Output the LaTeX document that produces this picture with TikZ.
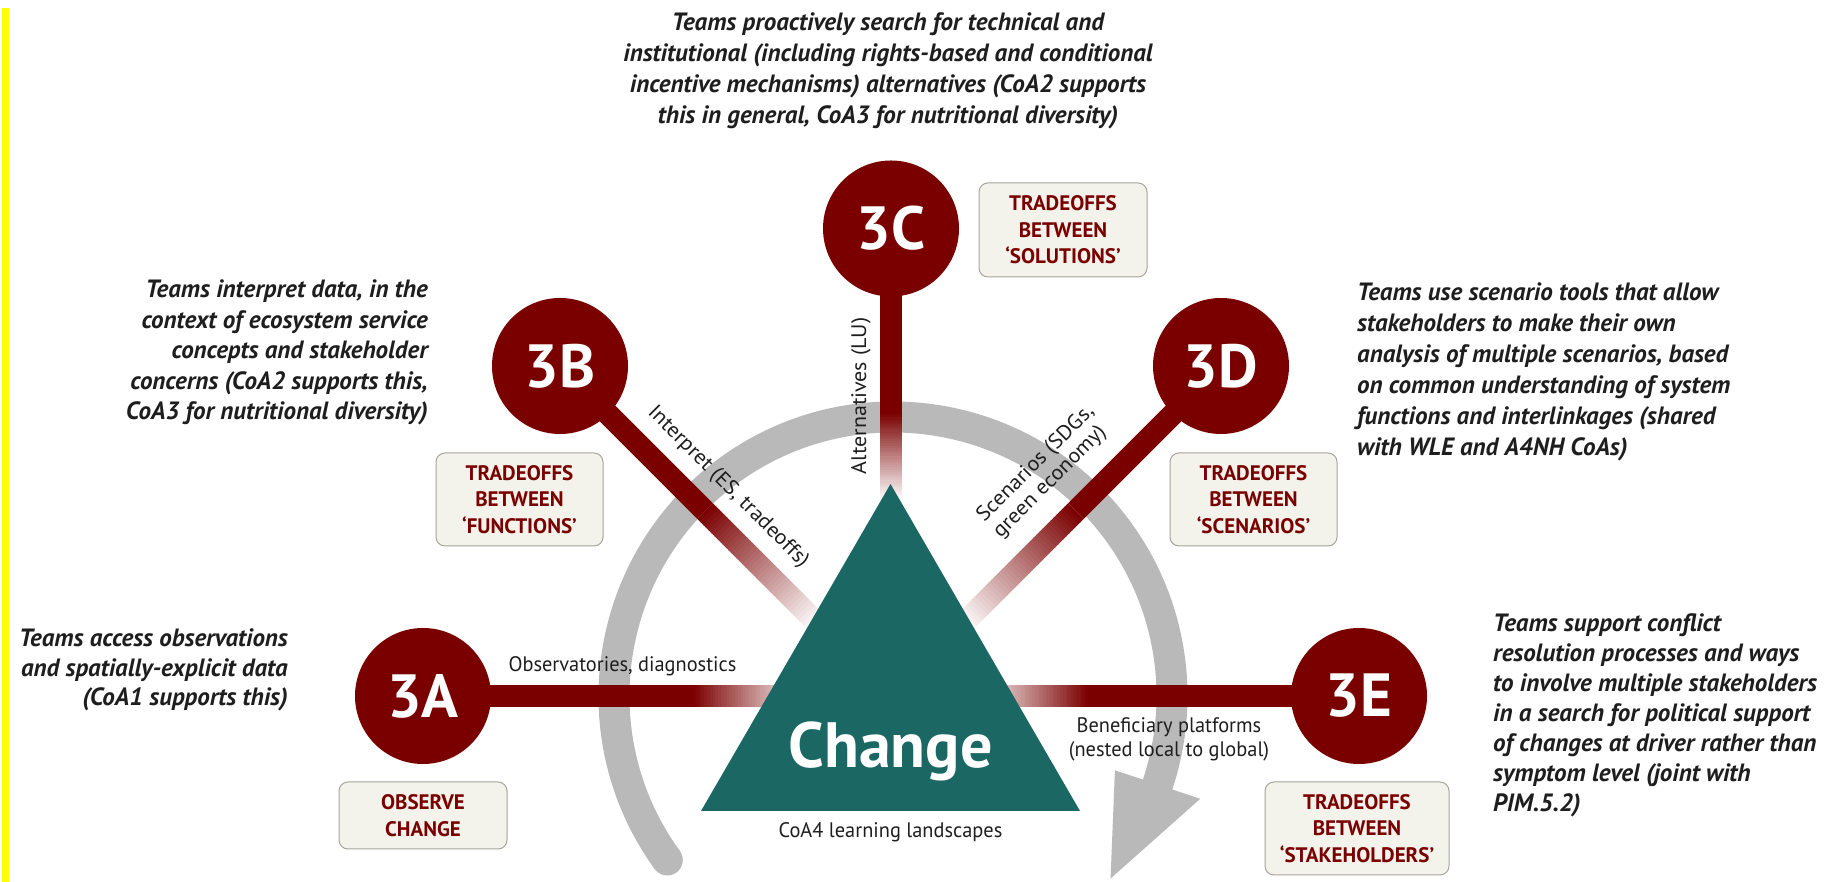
\documentclass[tikz,border=0pt]{standalone}
\usepackage{fontspec}
\setmainfont{PT Sans}
\newfontfamily\descf{PT Sans}
\newfontfamily\lblf{PT Sans}[FakeStretch=0.97]
\newfontfamily\rotf{PT Sans}[FakeStretch=1.05]
\usetikzlibrary{calc}
\definecolor{dred}{RGB}{122,0,0}
\definecolor{tealc}{RGB}{27,103,99}
\definecolor{arcgray}{RGB}{185,185,185}
\definecolor{boxfill}{RGB}{243,243,236}
\definecolor{boxline}{RGB}{165,165,155}
\definecolor{txt}{RGB}{30,30,30}
\definecolor{yellowc}{RGB}{255,255,0}
\pgfdeclarelayer{arcl}\pgfdeclarelayer{spokel}\pgfdeclarelayer{tril}
\pgfsetlayers{arcl,spokel,tril,main}
\newcommand{\fadespoke}[2]{%
 \foreach \i in {0,...,39}{%
   \pgfmathsetmacro{\ta}{\i/40}%
   \pgfmathsetmacro{\tb}{(\i+1.3)/40}%
   \pgfmathsetmacro{\pc}{100*(1-(\i+0.5)/40)}%
   \draw[line width=22, dred!\pc!white] ($(#1)!\ta!(#2)$) -- ($(#1)!\tb!(#2)$);
 }}
\begin{document}
\begin{tikzpicture}[x=1pt,y=1pt,
  hub/.style={circle, fill=dred, minimum size=136pt, inner sep=0pt, text=white, font=\fontsize{61}{61}\selectfont\bfseries},
  tradebox/.style={rounded corners=9pt, fill=boxfill, draw=boxline, line width=1pt, inner sep=0pt, align=center, text=dred, font=\fontsize{21}{26.5}\selectfont\bfseries},
  desc/.style={inner sep=0pt, text=txt, font=\descf\fontsize{25}{#1}\selectfont\bfseries\itshape},
  desc/.default=30,
  lbl/.style={inner sep=0pt, text=txt, font=\lblf\fontsize{21}{24}\selectfont},
  rlbl/.style={inner sep=0pt, text=txt, font=\rotf\fontsize{21}{23}\selectfont},
  spoke/.style={line width=22, dred},
]
\useasboundingbox (0,0) rectangle (1838,882);
\fill[yellowc] (2,0) rectangle (9,874);

% hubs
\node[hub] (c3A) at (423,186) {3A};
\node[hub] (c3B) at (560,516) {3B};
\node[hub] (c3C) at (891,653.5) {3C};
\node[hub] (c3D) at (1221,516) {3D};
\node[hub] (c3E) at (1359,186) {3E};

% triangle
\coordinate (tApex) at (890.5,398);
\coordinate (tBL) at (701,71);
\coordinate (tBR) at (1080,71);
\begin{pgfonlayer}{tril}
\fill[tealc] (tApex) -- (tBL) -- (tBR) -- cycle;
\end{pgfonlayer}
\node[anchor=base, inner sep=0pt, text=white, font=\fontsize{64}{64}\selectfont\bfseries] (chg) at (890.5,114) {Change};

% cycle arrow
\coordinate (arcc) at (893,186);
\begin{pgfonlayer}{arcl}
\draw[arcgray, line width=31] ($(arcc)+(216:279)$) arc[start angle=216, end angle=-20, radius=279];
\fill[arcgray] ($(arcc)+(216:279)$) circle[radius=15.5];
\fill[arcgray] ($(arcc)+(-18.5:234)$) -- ($(arcc)+(-18.5:324)$) -- ($(arcc)+(-40:284)$) -- cycle;
\end{pgfonlayer}

% spokes
\coordinate (f3A) at (693,186);  \coordinate (e3A) at (805,186);
\coordinate (f3E) at (1088,186); \coordinate (e3E) at (976,186);
\coordinate (f3C) at (891,469);  \coordinate (e3C) at (891,382);
\coordinate (f3B) at (705,371);  \coordinate (e3B) at (818,258);
\coordinate (f3D) at (1076,371); \coordinate (e3D) at (963,258);
\begin{pgfonlayer}{spokel}
\foreach \s in {3A,3B,3C,3D,3E}{
  \draw[spoke] (c\s.center) -- (f\s);
  \fadespoke{f\s}{e\s}
}
\end{pgfonlayer}

% tradeoff boxes
\node[tradebox, minimum width=168pt, minimum height=94pt] (bC) at (1063,652) {TRADEOFFS\\BETWEEN\\‘SOLUTIONS’};
\node[tradebox, minimum width=167pt, minimum height=93pt] (bB) at (519.5,382.5) {TRADEOFFS\\BETWEEN\\‘FUNCTIONS’};
\node[tradebox, minimum width=167pt, minimum height=93pt] (bD) at (1253.5,382.5) {TRADEOFFS\\BETWEEN\\‘SCENARIOS’};
\node[tradebox, minimum width=168pt, minimum height=67pt] (bA) at (423,66.5) {OBSERVE\\CHANGE};
\node[tradebox, minimum width=184pt, minimum height=93pt] (bE) at (1357,53.5) {TRADEOFFS\\BETWEEN\\‘STAKEHOLDERS’};

% descriptions
\node[desc=31, anchor=north, align=center] (tC) at (888,870) {Teams proactively search for technical and\\institutional (including rights-based and conditional\\incentive mechanisms) alternatives (CoA2 supports\\this in general, CoA3 for nutritional diversity)};
\node[desc=30.5, anchor=north east, align=right] (tB) at (428,602) {Teams interpret data, in the\\context of ecosystem service\\concepts and stakeholder\\concerns (CoA2 supports this,\\CoA3 for nutritional diversity)};
\node[desc=29.5, anchor=north east, align=right] (tA) at (288,253) {Teams access observations\\and spatially-explicit data\\(CoA1 supports this)};
\node[desc=31, anchor=north west, align=left] (tD) at (1357,599) {Teams use scenario tools that allow\\stakeholders to make their own\\analysis of multiple scenarios, based\\on common understanding of system\\functions and interlinkages (shared\\with WLE and A4NH CoAs)};
\node[desc=30, anchor=north west, align=left] (tE) at (1493,269) {Teams support conflict\\resolution processes and ways\\to involve multiple stakeholders\\in a search for political support\\of changes at driver rather than\\symptom level (joint with\\PIM.5.2)};

% spoke labels
\node[lbl, anchor=base] (lA) at (622.5,210) {Observatories, diagnostics};
\node[lbl, anchor=north, align=center] (lE) at (1169,165) {Beneficiary platforms\\(nested local to global)};
\node[lbl, anchor=base] (lCoA) at (890.5,44) {CoA4 learning landscapes};
\node[rlbl, rotate=90] (lC) at (861,486) {Alternatives (LU)};
\node[rlbl, rotate=-45] (lB) at (728,395) {Interpret (ES, tradeoffs)};
\node[rlbl, rotate=45, align=left] (lD) at (1044,410) {Scenarios (SDGs,\\green economy)};
\end{tikzpicture}
\end{document}
